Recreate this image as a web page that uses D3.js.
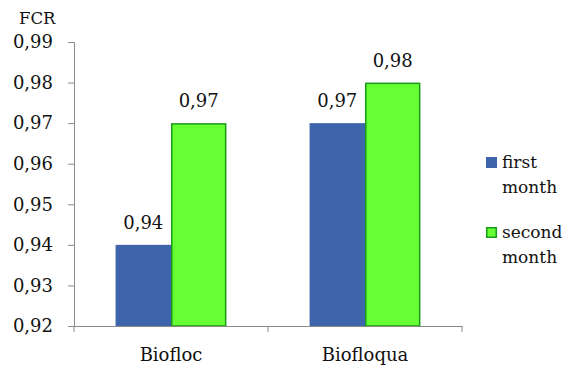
<!DOCTYPE html>
<html>
<head>
<meta charset="utf-8">
<script src="https://cdn.jsdelivr.net/npm/d3@7"></script>
<style>
  html, body { margin: 0; padding: 0; background: #fff; }
  svg text { font-family: "DejaVu Serif", "Liberation Serif", serif; fill: #111; }
</style>
</head>
<body>
<svg id="chart" width="566" height="367"></svg>
<script>
// FCR by system and month
const categories = ["Biofloc", "Biofloqua"];
const seriesNames = ["first month", "second month"];
const firstMonth = [0.94, 0.97];
const secondMonth = [0.97, 0.98];
const yTicks = [0.92, 0.93, 0.94, 0.95, 0.96, 0.97, 0.98, 0.99];

const colors = { "first month": "#3E64AC", "second month": "#66FF33" };
const strokes = { "first month": "none", "second month": "#1A9A1A" };

const svg = d3.select("#chart");
const margin = { left: 74, right: 104, top: 42, bottom: 41 };
const W = 566, H = 367;
const serif = "DejaVu Serif, serif";

const x = d3.scaleBand().domain(categories).range([margin.left, W - margin.right]);
const inner = d3.scaleBand().domain(seriesNames)
  .range([0, x.bandwidth()]).paddingInner(0).paddingOuter(0.75);
const y = d3.scaleLinear().domain([0.92, 0.99]).range([H - margin.bottom, margin.top]);

const fmt = v => d3.format(".2f")(v).replace(".", ",");

// y axis
const yAxis = svg.append("g")
  .attr("transform", `translate(${margin.left},0)`)
  .call(d3.axisLeft(y).tickValues(yTicks).tickFormat(fmt).tickSizeOuter(0).tickSize(6).tickPadding(15));
yAxis.select(".domain").attr("stroke", "#8a8a8a");
yAxis.selectAll(".tick line").attr("stroke", "#8a8a8a");
yAxis.selectAll(".tick text").attr("font-size", 18).attr("fill", "#111")
  .attr("font-family", serif);

// bars
const rows = categories.map((c, i) => ({ cat: c, vals: [
  { s: seriesNames[0], v: firstMonth[i] },
  { s: seriesNames[1], v: secondMonth[i] }
]}));

const groups = svg.append("g").selectAll("g").data(rows).join("g")
  .attr("transform", d => `translate(${x(d.cat)},0)`);

const inset = d => (strokes[d.s] === "none" ? 0 : 0.75);
groups.selectAll("rect").data(d => d.vals).join("rect")
  .attr("x", d => inner(d.s) + inset(d))
  .attr("y", d => y(d.v) + inset(d))
  .attr("width", d => inner.bandwidth() - 2 * inset(d))
  .attr("height", d => y(0.92) - y(d.v) - inset(d))
  .attr("fill", d => colors[d.s])
  .attr("stroke", d => strokes[d.s])
  .attr("stroke-width", 1.5);

groups.selectAll("text.val").data(d => d.vals).join("text")
  .attr("class", "val")
  .attr("x", d => inner(d.s) + inner.bandwidth() / 2)
  .attr("y", d => y(d.v) - 16)
  .attr("text-anchor", "middle")
  .attr("font-size", 18)
  .text(d => fmt(d.v));

// x axis
const xAxis = svg.append("g")
  .attr("transform", `translate(0,${y(0.92)})`)
  .call(d3.axisBottom(x).tickSize(0).tickPadding(22));
xAxis.select(".domain").attr("stroke", "#8a8a8a");
xAxis.selectAll(".tick text").attr("font-size", 18).attr("fill", "#111")
  .attr("font-family", serif);
// category boundary ticks
const bounds = [x.range()[0], ...categories.map(c => x(c) + x.bandwidth())];
svg.append("g").selectAll("line").data(bounds).join("line")
  .attr("x1", d => d).attr("x2", d => d)
  .attr("y1", y(0.92)).attr("y2", y(0.92) + 6)
  .attr("stroke", "#8a8a8a");

// axis title
svg.append("text").attr("x", 19).attr("y", 24).attr("font-size", 16.5).text("FCR");

// legend
const legend = svg.append("g").attr("transform", "translate(486,157)");
const items = [
  { s: seriesNames[0], lines: ["first", "month"], dy: 0 },
  { s: seriesNames[1], lines: ["second", "month"], dy: 70 }
];
items.forEach(it => {
  const g = legend.append("g").attr("transform", `translate(0,${it.dy})`);
  const ins = strokes[it.s] === "none" ? 0 : 0.75;
  g.append("rect")
    .attr("x", ins).attr("y", ins)
    .attr("width", 11 - 2 * ins).attr("height", 11 - 2 * ins)
    .attr("fill", colors[it.s]).attr("stroke", strokes[it.s]).attr("stroke-width", 1.5);
  it.lines.forEach((t, k) => {
    g.append("text").attr("x", 16).attr("y", 11 + k * 25).attr("font-size", 17).text(t);
  });
});
</script>
</body>
</html>
